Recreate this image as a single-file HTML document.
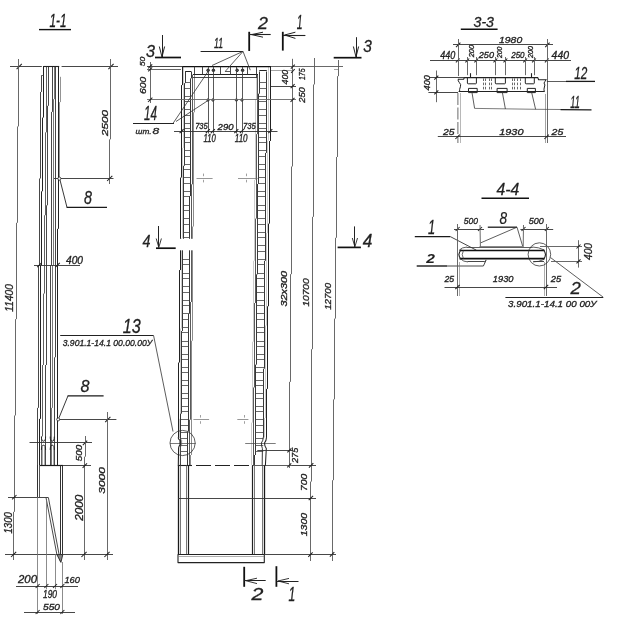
<!DOCTYPE html>
<html><head><meta charset="utf-8"><title>drawing</title>
<style>
html,body{margin:0;padding:0;background:#fff;}
body{width:626px;height:625px;overflow:hidden;}
svg{display:block;font-family:"Liberation Sans",sans-serif;will-change:transform;}
</style></head><body>
<svg width="626" height="625" viewBox="0 0 626 625">
<rect width="626" height="625" fill="#fff"/>
<text x="49.5" y="27" font-size="18.16" textLength="17" lengthAdjust="spacingAndGlyphs" fill="#1a1a1a" style="font-style:italic;font-weight:normal" stroke="#1a1a1a" stroke-width="0.3">1-1</text>
<line x1="39" y1="29.6" x2="71" y2="29.6" stroke="#111" stroke-width="1.4"/>
<line x1="10" y1="66.5" x2="41.8" y2="66.5" stroke="#333" stroke-width="0.9"/>
<line x1="61.6" y1="66.5" x2="118" y2="66.5" stroke="#333" stroke-width="0.9"/>
<line x1="16.6" y1="69.1" x2="21.8" y2="63.9" stroke="#222" stroke-width="1.05"/>
<line x1="108.4" y1="69.1" x2="113.6" y2="63.9" stroke="#222" stroke-width="1.05"/>
<line x1="13.5" y1="511.83" x2="13.5" y2="560" stroke="#585858" stroke-width="0.9"/>
<line x1="14.5" y1="415.48" x2="14.5" y2="511.83" stroke="#585858" stroke-width="0.9"/>
<line x1="15.5" y1="319.13" x2="15.5" y2="415.48" stroke="#585858" stroke-width="0.9"/>
<line x1="16.5" y1="222.79" x2="16.5" y2="319.13" stroke="#585858" stroke-width="0.9"/>
<line x1="17.5" y1="126.44" x2="17.5" y2="222.79" stroke="#585858" stroke-width="0.9"/>
<line x1="18.5" y1="59" x2="18.5" y2="126.44" stroke="#585858" stroke-width="0.9"/>
<line x1="109.5" y1="139.36" x2="109.5" y2="184" stroke="#585858" stroke-width="0.9"/>
<line x1="110.5" y1="59" x2="110.5" y2="139.36" stroke="#585858" stroke-width="0.9"/>
<line x1="107.1" y1="181" x2="112.3" y2="175.8" stroke="#222" stroke-width="1.05"/>
<line x1="54" y1="178.5" x2="113.5" y2="178.5" stroke="#333" stroke-width="0.9"/>
<text transform="translate(108.1 136) rotate(-90)" x="0" y="0" font-size="9.22" textLength="26" lengthAdjust="spacingAndGlyphs" fill="#222" style="font-style:italic;font-weight:normal" stroke="#222" stroke-width="0.32">2500</text>
<line x1="39.5" y1="178.48" x2="39.5" y2="265" stroke="#333" stroke-width="0.9"/>
<line x1="40.5" y1="91.96" x2="40.5" y2="178.48" stroke="#333" stroke-width="0.9"/>
<line x1="41.5" y1="75.5" x2="41.5" y2="91.96" stroke="#333" stroke-width="0.9"/>
<line x1="37.5" y1="407.86" x2="37.5" y2="465" stroke="#333" stroke-width="0.9"/>
<line x1="38.5" y1="265" x2="38.5" y2="407.86" stroke="#333" stroke-width="0.9"/>
<line x1="41.5" y1="191.3" x2="41.5" y2="265" stroke="#222" stroke-width="1"/>
<line x1="42.5" y1="117.59" x2="42.5" y2="191.3" stroke="#222" stroke-width="1"/>
<line x1="43.5" y1="66" x2="43.5" y2="117.59" stroke="#222" stroke-width="1"/>
<line x1="39.5" y1="418.85" x2="39.5" y2="465" stroke="#222" stroke-width="1"/>
<line x1="40.5" y1="265" x2="40.5" y2="418.85" stroke="#222" stroke-width="1"/>
<line x1="44.5" y1="215.25" x2="44.5" y2="265" stroke="#444" stroke-width="0.85"/>
<line x1="45.5" y1="132.33" x2="45.5" y2="215.25" stroke="#444" stroke-width="0.85"/>
<line x1="46.5" y1="66" x2="46.5" y2="132.33" stroke="#444" stroke-width="0.85"/>
<line x1="41.5" y1="436.43" x2="41.5" y2="465" stroke="#444" stroke-width="0.85"/>
<line x1="42.5" y1="365" x2="42.5" y2="436.43" stroke="#444" stroke-width="0.85"/>
<line x1="43.5" y1="293.57" x2="43.5" y2="365" stroke="#444" stroke-width="0.85"/>
<line x1="44.5" y1="265" x2="44.5" y2="293.57" stroke="#444" stroke-width="0.85"/>
<line x1="46.5" y1="205.3" x2="46.5" y2="265" stroke="#333" stroke-width="0.9"/>
<line x1="47.5" y1="105.8" x2="47.5" y2="205.3" stroke="#333" stroke-width="0.9"/>
<line x1="48.5" y1="66" x2="48.5" y2="105.8" stroke="#333" stroke-width="0.9"/>
<line x1="45.5" y1="365" x2="45.5" y2="465" stroke="#333" stroke-width="0.9"/>
<line x1="46.5" y1="265" x2="46.5" y2="365" stroke="#333" stroke-width="0.9"/>
<line x1="51.5" y1="111.92" x2="51.5" y2="265" stroke="#333" stroke-width="0.9"/>
<line x1="52.5" y1="66" x2="52.5" y2="111.92" stroke="#333" stroke-width="0.9"/>
<line x1="50.5" y1="265" x2="50.5" y2="465" stroke="#333" stroke-width="0.9"/>
<line x1="53.5" y1="99.17" x2="53.5" y2="265" stroke="#555" stroke-width="0.8"/>
<line x1="54.5" y1="66" x2="54.5" y2="99.17" stroke="#555" stroke-width="0.8"/>
<line x1="51.5" y1="407.86" x2="51.5" y2="465" stroke="#555" stroke-width="0.8"/>
<line x1="52.5" y1="265" x2="52.5" y2="407.86" stroke="#555" stroke-width="0.8"/>
<line x1="55.5" y1="66" x2="55.5" y2="265" stroke="#333" stroke-width="0.9"/>
<line x1="54.5" y1="357.31" x2="54.5" y2="465" stroke="#333" stroke-width="0.9"/>
<line x1="55.5" y1="265" x2="55.5" y2="357.31" stroke="#333" stroke-width="0.9"/>
<line x1="57.5" y1="228.82" x2="57.5" y2="265" stroke="#222" stroke-width="1"/>
<line x1="58.5" y1="66" x2="58.5" y2="228.82" stroke="#222" stroke-width="1"/>
<line x1="57.5" y1="265" x2="57.5" y2="465" stroke="#222" stroke-width="1"/>
<line x1="43.4" y1="66.5" x2="59.2" y2="66.5" stroke="#222" stroke-width="1.1"/>
<line x1="41.2" y1="75.5" x2="43.4" y2="75.5" stroke="#444" stroke-width="0.8"/>
<line x1="59.5" y1="102.1" x2="59.5" y2="178" stroke="#666" stroke-width="0.7"/>
<line x1="60.5" y1="76.8" x2="60.5" y2="102.1" stroke="#666" stroke-width="0.7"/>
<circle cx="59.4" cy="178.6" r="1.5" fill="#fff" stroke="#222" stroke-width="0.8"/>
<line x1="60" y1="180" x2="67" y2="207.4" stroke="#222" stroke-width="0.9"/>
<line x1="66.6" y1="207.4" x2="107" y2="207.4" stroke="#1a1a1a" stroke-width="1.3"/>
<text x="84" y="204" font-size="18.16" textLength="8" lengthAdjust="spacingAndGlyphs" fill="#222" style="font-style:italic;font-weight:normal" stroke="#222" stroke-width="0.28">8</text>
<line x1="34" y1="265.5" x2="80" y2="265.5" stroke="#333" stroke-width="0.9"/>
<line x1="37.2" y1="267.2" x2="41.6" y2="262.8" stroke="#222" stroke-width="1.05"/>
<line x1="55.4" y1="267.2" x2="59.8" y2="262.8" stroke="#222" stroke-width="1.05"/>
<text x="66" y="263.5" font-size="11.17" textLength="17" lengthAdjust="spacingAndGlyphs" fill="#222" style="font-style:italic;font-weight:normal" stroke="#222" stroke-width="0.32">400</text>
<text transform="translate(12.6 311.7) rotate(-90)" x="0" y="0" font-size="10.61" textLength="27.7" lengthAdjust="spacingAndGlyphs" fill="#222" style="font-style:italic;font-weight:normal" stroke="#222" stroke-width="0.32">11400</text>
<text x="80.6" y="392.4" font-size="16.76" textLength="9" lengthAdjust="spacingAndGlyphs" fill="#222" style="font-style:italic;font-weight:normal" stroke="#222" stroke-width="0.28">8</text>
<line x1="68" y1="395.8" x2="59" y2="417.8" stroke="#222" stroke-width="0.9"/>
<line x1="67.6" y1="395.8" x2="103.6" y2="395.8" stroke="#1a1a1a" stroke-width="1.3"/>
<circle cx="58.2" cy="419.4" r="1.5" fill="#fff" stroke="#222" stroke-width="0.8"/>
<line x1="59.5" y1="419.5" x2="116.4" y2="419.5" stroke="#333" stroke-width="0.9"/>
<line x1="105.2" y1="422.1" x2="110.4" y2="416.9" stroke="#222" stroke-width="1.05"/>
<line x1="107.5" y1="412" x2="107.5" y2="560" stroke="#585858" stroke-width="0.9"/>
<text transform="translate(105.2 493.8) rotate(-90)" x="0" y="0" font-size="9.78" textLength="26.8" lengthAdjust="spacingAndGlyphs" fill="#222" style="font-style:italic;font-weight:normal" stroke="#222" stroke-width="0.32">3000</text>
<line x1="29.5" y1="442.5" x2="92" y2="442.5" stroke="#333" stroke-width="0.9"/>
<line x1="82.8" y1="445.1" x2="87.2" y2="440.7" stroke="#222" stroke-width="1.05"/>
<line x1="84.5" y1="456.67" x2="84.5" y2="560" stroke="#585858" stroke-width="0.9"/>
<line x1="85.5" y1="436" x2="85.5" y2="456.67" stroke="#585858" stroke-width="0.9"/>
<text transform="translate(82.2 461.2) rotate(-90)" x="0" y="0" font-size="8.94" textLength="16.4" lengthAdjust="spacingAndGlyphs" fill="#222" style="font-style:italic;font-weight:normal" stroke="#222" stroke-width="0.32">500</text>
<line x1="40" y1="465.5" x2="63" y2="465.5" stroke="#1a1a1a" stroke-width="1.2"/>
<line x1="63" y1="465.5" x2="91" y2="465.5" stroke="#333" stroke-width="0.9"/>
<line x1="82.6" y1="467.8" x2="87" y2="463.4" stroke="#222" stroke-width="1.05"/>
<text transform="translate(82.5 520.8) rotate(-90)" x="0" y="0" font-size="10.34" textLength="26" lengthAdjust="spacingAndGlyphs" fill="#222" style="font-style:italic;font-weight:normal" stroke="#222" stroke-width="0.32">2000</text>
<path d="M41.4 437 Q41.4 441.2 43.5 441.2 Q45.6 441.2 45.6 437" fill="none" stroke="#222" stroke-width="1" stroke-linejoin="round" stroke-linecap="round"/>
<path d="M41.4 449.5 Q41.4 445.2 43.5 445.2 Q45.6 445.2 45.6 449.5" fill="none" stroke="#222" stroke-width="1" stroke-linejoin="round" stroke-linecap="round"/>
<line x1="42.5" y1="446.5" x2="42.5" y2="465" stroke="#777" stroke-width="0.6"/>
<line x1="44.5" y1="446.5" x2="44.5" y2="465" stroke="#777" stroke-width="0.6"/>
<path d="M50.2 437 Q50.2 441.2 52.25 441.2 Q54.3 441.2 54.3 437" fill="none" stroke="#222" stroke-width="1" stroke-linejoin="round" stroke-linecap="round"/>
<path d="M50.2 449.5 Q50.2 445.2 52.25 445.2 Q54.3 445.2 54.3 449.5" fill="none" stroke="#222" stroke-width="1" stroke-linejoin="round" stroke-linecap="round"/>
<line x1="51.5" y1="446.5" x2="51.5" y2="465" stroke="#777" stroke-width="0.6"/>
<line x1="53.5" y1="446.5" x2="53.5" y2="465" stroke="#777" stroke-width="0.6"/>
<line x1="37.5" y1="465" x2="37.5" y2="497.4" stroke="#333" stroke-width="1"/>
<line x1="39.5" y1="465" x2="39.5" y2="497.4" stroke="#444" stroke-width="0.9"/>
<line x1="8" y1="497.5" x2="48.4" y2="497.5" stroke="#333" stroke-width="0.9"/>
<line x1="60.5" y1="465.6" x2="60.5" y2="561" stroke="#333" stroke-width="1"/>
<line x1="62.5" y1="465.6" x2="62.5" y2="555" stroke="#333" stroke-width="1"/>
<path d="M46 497.6 L56.9 554.6" fill="none" stroke="#333" stroke-width="0.9" stroke-linejoin="round"/>
<path d="M48.4 497.6 L60.4 561.5" fill="none" stroke="#333" stroke-width="0.9" stroke-linejoin="round"/>
<path d="M56.9 554.6 L60.9 562.4 L62.8 554.6 Z" fill="#888" stroke="#222" stroke-width="0.9" stroke-linejoin="round"/>
<line x1="5" y1="554.5" x2="113" y2="554.5" stroke="#333" stroke-width="0.9"/>
<line x1="11" y1="557" x2="16.2" y2="551.8" stroke="#222" stroke-width="1.05"/>
<line x1="81.4" y1="557" x2="86.6" y2="551.8" stroke="#222" stroke-width="1.05"/>
<line x1="104.4" y1="557" x2="109.6" y2="551.8" stroke="#222" stroke-width="1.05"/>
<line x1="12.1" y1="499.4" x2="16.5" y2="495" stroke="#222" stroke-width="1.05"/>
<text transform="translate(12.4 533.5) rotate(-90)" x="0" y="0" font-size="10.06" textLength="21.5" lengthAdjust="spacingAndGlyphs" fill="#222" style="font-style:italic;font-weight:normal" stroke="#222" stroke-width="0.32">1300</text>
<line x1="37.5" y1="497" x2="37.5" y2="614" stroke="#6e6e6e" stroke-width="0.8"/>
<line x1="46.5" y1="500" x2="46.5" y2="589" stroke="#6e6e6e" stroke-width="0.8"/>
<line x1="55.5" y1="554" x2="55.5" y2="589" stroke="#6e6e6e" stroke-width="0.8"/>
<line x1="62.5" y1="562" x2="62.5" y2="614" stroke="#6e6e6e" stroke-width="0.8"/>
<line x1="16" y1="586.5" x2="78" y2="586.5" stroke="#333" stroke-width="0.9"/>
<line x1="35.6" y1="588" x2="39.6" y2="584" stroke="#222" stroke-width="1.05"/>
<line x1="44.4" y1="588" x2="48.4" y2="584" stroke="#222" stroke-width="1.05"/>
<line x1="53" y1="588" x2="57" y2="584" stroke="#222" stroke-width="1.05"/>
<line x1="60.4" y1="588" x2="64.4" y2="584" stroke="#222" stroke-width="1.05"/>
<line x1="24" y1="612.5" x2="75" y2="612.5" stroke="#333" stroke-width="0.9"/>
<line x1="35.6" y1="614" x2="39.6" y2="610" stroke="#222" stroke-width="1.05"/>
<line x1="60.4" y1="614" x2="64.4" y2="610" stroke="#222" stroke-width="1.05"/>
<text x="18" y="583" font-size="10.47" textLength="19" lengthAdjust="spacingAndGlyphs" fill="#222" style="font-style:italic;font-weight:normal" stroke="#222" stroke-width="0.32">200</text>
<text x="64.4" y="583" font-size="9.78" textLength="15.6" lengthAdjust="spacingAndGlyphs" fill="#222" style="font-style:italic;font-weight:normal" stroke="#222" stroke-width="0.32">160</text>
<text x="43" y="598" font-size="10.47" textLength="14" lengthAdjust="spacingAndGlyphs" fill="#222" style="font-style:italic;font-weight:normal" stroke="#222" stroke-width="0.32">190</text>
<text x="43" y="609.6" font-size="9.22" textLength="17" lengthAdjust="spacingAndGlyphs" fill="#222" style="font-style:italic;font-weight:normal" stroke="#222" stroke-width="0.32">550</text>
<text x="122.8" y="333" font-size="19.55" textLength="18" lengthAdjust="spacingAndGlyphs" fill="#222" style="font-style:italic;font-weight:normal" stroke="#222" stroke-width="0.28">13</text>
<line x1="60.2" y1="335.5" x2="153.6" y2="335.5" stroke="#222" stroke-width="1.2"/>
<line x1="153.6" y1="335.6" x2="173" y2="431.5" stroke="#333" stroke-width="0.8"/>
<text x="62.7" y="345.8" font-size="9.08" textLength="89.6" lengthAdjust="spacingAndGlyphs" fill="#222" style="font-style:italic;font-weight:normal" stroke="#222" stroke-width="0.32">3.901.1-14.1 00.00.00У</text>
<line x1="180.5" y1="177.57" x2="180.5" y2="238.8" stroke="#222" stroke-width="1.05"/>
<line x1="181.5" y1="85.1" x2="181.5" y2="177.57" stroke="#222" stroke-width="1.05"/>
<line x1="182.5" y1="66.6" x2="182.5" y2="85.1" stroke="#222" stroke-width="1.05"/>
<line x1="178.5" y1="362.52" x2="178.5" y2="437.8" stroke="#222" stroke-width="1.05"/>
<line x1="179.5" y1="270.05" x2="179.5" y2="362.52" stroke="#222" stroke-width="1.05"/>
<line x1="180.5" y1="250.3" x2="180.5" y2="270.05" stroke="#222" stroke-width="1.05"/>
<line x1="181.5" y1="238.22" x2="181.5" y2="238.8" stroke="#999" stroke-width="0.5"/>
<line x1="182.5" y1="147.89" x2="182.5" y2="238.22" stroke="#999" stroke-width="0.5"/>
<line x1="183.5" y1="66.6" x2="183.5" y2="147.89" stroke="#999" stroke-width="0.5"/>
<line x1="179.5" y1="418.87" x2="179.5" y2="437.8" stroke="#999" stroke-width="0.5"/>
<line x1="180.5" y1="328.54" x2="180.5" y2="418.87" stroke="#999" stroke-width="0.5"/>
<line x1="181.5" y1="250.3" x2="181.5" y2="328.54" stroke="#999" stroke-width="0.5"/>
<line x1="183.5" y1="165.77" x2="183.5" y2="238.8" stroke="#2c2c2c" stroke-width="0.95"/>
<line x1="184.5" y1="83.13" x2="184.5" y2="165.77" stroke="#2c2c2c" stroke-width="0.95"/>
<line x1="185.5" y1="71.5" x2="185.5" y2="83.13" stroke="#2c2c2c" stroke-width="0.95"/>
<line x1="180.5" y1="413.68" x2="180.5" y2="465" stroke="#2c2c2c" stroke-width="0.95"/>
<line x1="181.5" y1="331.04" x2="181.5" y2="413.68" stroke="#2c2c2c" stroke-width="0.95"/>
<line x1="182.5" y1="250.3" x2="182.5" y2="331.04" stroke="#2c2c2c" stroke-width="0.95"/>
<line x1="189.5" y1="196.07" x2="189.5" y2="238.8" stroke="#2c2c2c" stroke-width="0.95"/>
<line x1="190.5" y1="78.37" x2="190.5" y2="196.07" stroke="#2c2c2c" stroke-width="0.95"/>
<line x1="191.5" y1="71.5" x2="191.5" y2="78.37" stroke="#2c2c2c" stroke-width="0.95"/>
<line x1="187.5" y1="431.46" x2="187.5" y2="465" stroke="#2c2c2c" stroke-width="0.95"/>
<line x1="188.5" y1="313.76" x2="188.5" y2="431.46" stroke="#2c2c2c" stroke-width="0.95"/>
<line x1="189.5" y1="250.3" x2="189.5" y2="313.76" stroke="#2c2c2c" stroke-width="0.95"/>
<line x1="191.5" y1="184.3" x2="191.5" y2="238.8" stroke="#3c3c3c" stroke-width="0.85"/>
<line x1="192.5" y1="74.7" x2="192.5" y2="184.3" stroke="#3c3c3c" stroke-width="0.85"/>
<line x1="189.5" y1="419.69" x2="189.5" y2="465" stroke="#3c3c3c" stroke-width="0.85"/>
<line x1="190.5" y1="301.99" x2="190.5" y2="419.69" stroke="#3c3c3c" stroke-width="0.85"/>
<line x1="191.5" y1="250.3" x2="191.5" y2="301.99" stroke="#3c3c3c" stroke-width="0.85"/>
<line x1="192.5" y1="226.53" x2="192.5" y2="238.8" stroke="#5a5a5a" stroke-width="0.7"/>
<line x1="193.5" y1="112.29" x2="193.5" y2="226.53" stroke="#5a5a5a" stroke-width="0.7"/>
<line x1="194.5" y1="74.7" x2="194.5" y2="112.29" stroke="#5a5a5a" stroke-width="0.7"/>
<line x1="190.5" y1="455" x2="190.5" y2="465" stroke="#5a5a5a" stroke-width="0.7"/>
<line x1="191.5" y1="340.76" x2="191.5" y2="455" stroke="#5a5a5a" stroke-width="0.7"/>
<line x1="192.5" y1="250.3" x2="192.5" y2="340.76" stroke="#5a5a5a" stroke-width="0.7"/>
<line x1="251.5" y1="422.63" x2="251.5" y2="465" stroke="#999" stroke-width="0.5"/>
<line x1="252.5" y1="341.72" x2="252.5" y2="422.63" stroke="#999" stroke-width="0.5"/>
<line x1="253.5" y1="260.8" x2="253.5" y2="341.72" stroke="#999" stroke-width="0.5"/>
<line x1="254.5" y1="179.88" x2="254.5" y2="260.8" stroke="#999" stroke-width="0.5"/>
<line x1="255.5" y1="98.97" x2="255.5" y2="179.88" stroke="#999" stroke-width="0.5"/>
<line x1="256.5" y1="74.7" x2="256.5" y2="98.97" stroke="#999" stroke-width="0.5"/>
<line x1="253.5" y1="387.45" x2="253.5" y2="465" stroke="#3c3c3c" stroke-width="0.85"/>
<line x1="254.5" y1="303.02" x2="254.5" y2="387.45" stroke="#3c3c3c" stroke-width="0.85"/>
<line x1="255.5" y1="218.58" x2="255.5" y2="303.02" stroke="#3c3c3c" stroke-width="0.85"/>
<line x1="256.5" y1="134.15" x2="256.5" y2="218.58" stroke="#3c3c3c" stroke-width="0.85"/>
<line x1="257.5" y1="74.7" x2="257.5" y2="134.15" stroke="#3c3c3c" stroke-width="0.85"/>
<line x1="254.5" y1="455" x2="254.5" y2="465" stroke="#2c2c2c" stroke-width="0.95"/>
<line x1="255.5" y1="364.67" x2="255.5" y2="455" stroke="#2c2c2c" stroke-width="0.95"/>
<line x1="256.5" y1="274.35" x2="256.5" y2="364.67" stroke="#2c2c2c" stroke-width="0.95"/>
<line x1="257.5" y1="184.02" x2="257.5" y2="274.35" stroke="#2c2c2c" stroke-width="0.95"/>
<line x1="258.5" y1="93.7" x2="258.5" y2="184.02" stroke="#2c2c2c" stroke-width="0.95"/>
<line x1="259.5" y1="71.5" x2="259.5" y2="93.7" stroke="#2c2c2c" stroke-width="0.95"/>
<line x1="263.5" y1="368.69" x2="263.5" y2="437.5" stroke="#2c2c2c" stroke-width="0.95"/>
<line x1="264.5" y1="260.8" x2="264.5" y2="368.69" stroke="#2c2c2c" stroke-width="0.95"/>
<line x1="265.5" y1="152.91" x2="265.5" y2="260.8" stroke="#2c2c2c" stroke-width="0.95"/>
<line x1="266.5" y1="71.5" x2="266.5" y2="152.91" stroke="#2c2c2c" stroke-width="0.95"/>
<line x1="264.5" y1="418.01" x2="264.5" y2="437.5" stroke="#999" stroke-width="0.5"/>
<line x1="265.5" y1="325.53" x2="265.5" y2="418.01" stroke="#999" stroke-width="0.5"/>
<line x1="266.5" y1="233.06" x2="266.5" y2="325.53" stroke="#999" stroke-width="0.5"/>
<line x1="267.5" y1="140.58" x2="267.5" y2="233.06" stroke="#999" stroke-width="0.5"/>
<line x1="268.5" y1="66.6" x2="268.5" y2="140.58" stroke="#999" stroke-width="0.5"/>
<line x1="266.5" y1="388.89" x2="266.5" y2="437.5" stroke="#222" stroke-width="1.05"/>
<line x1="267.5" y1="306.25" x2="267.5" y2="388.89" stroke="#222" stroke-width="1.05"/>
<line x1="268.5" y1="223.61" x2="268.5" y2="306.25" stroke="#222" stroke-width="1.05"/>
<line x1="269.5" y1="140.97" x2="269.5" y2="223.61" stroke="#222" stroke-width="1.05"/>
<line x1="270.5" y1="66.6" x2="270.5" y2="140.97" stroke="#222" stroke-width="1.05"/>
<line x1="185.01" y1="82.5" x2="190.96" y2="82.5" stroke="#444" stroke-width="0.8"/>
<line x1="259.12" y1="82.5" x2="266.65" y2="82.5" stroke="#444" stroke-width="0.8"/>
<line x1="184.94" y1="88.5" x2="190.92" y2="88.5" stroke="#444" stroke-width="0.8"/>
<line x1="259.06" y1="88.5" x2="266.6" y2="88.5" stroke="#444" stroke-width="0.8"/>
<line x1="184.84" y1="96.5" x2="190.85" y2="96.5" stroke="#444" stroke-width="0.8"/>
<line x1="258.97" y1="96.5" x2="266.53" y2="96.5" stroke="#444" stroke-width="0.8"/>
<line x1="184.78" y1="101.5" x2="190.8" y2="101.5" stroke="#444" stroke-width="0.8"/>
<line x1="258.91" y1="101.5" x2="266.48" y2="101.5" stroke="#444" stroke-width="0.8"/>
<line x1="184.68" y1="109.5" x2="190.73" y2="109.5" stroke="#444" stroke-width="0.8"/>
<line x1="258.82" y1="109.5" x2="266.4" y2="109.5" stroke="#444" stroke-width="0.8"/>
<line x1="184.61" y1="115.5" x2="190.69" y2="115.5" stroke="#444" stroke-width="0.8"/>
<line x1="258.76" y1="115.5" x2="266.35" y2="115.5" stroke="#444" stroke-width="0.8"/>
<line x1="184.51" y1="123.5" x2="190.62" y2="123.5" stroke="#444" stroke-width="0.8"/>
<line x1="258.67" y1="123.5" x2="266.27" y2="123.5" stroke="#444" stroke-width="0.8"/>
<line x1="184.45" y1="128.5" x2="190.57" y2="128.5" stroke="#444" stroke-width="0.8"/>
<line x1="258.61" y1="128.5" x2="266.22" y2="128.5" stroke="#444" stroke-width="0.8"/>
<line x1="184.35" y1="137.5" x2="190.5" y2="137.5" stroke="#444" stroke-width="0.8"/>
<line x1="258.52" y1="137.5" x2="266.15" y2="137.5" stroke="#444" stroke-width="0.8"/>
<line x1="184.28" y1="142.5" x2="190.46" y2="142.5" stroke="#444" stroke-width="0.8"/>
<line x1="258.46" y1="142.5" x2="266.1" y2="142.5" stroke="#444" stroke-width="0.8"/>
<line x1="184.18" y1="150.5" x2="190.39" y2="150.5" stroke="#444" stroke-width="0.8"/>
<line x1="258.37" y1="150.5" x2="266.02" y2="150.5" stroke="#444" stroke-width="0.8"/>
<line x1="184.12" y1="156.5" x2="190.34" y2="156.5" stroke="#444" stroke-width="0.8"/>
<line x1="258.31" y1="156.5" x2="265.97" y2="156.5" stroke="#444" stroke-width="0.8"/>
<line x1="184.02" y1="164.5" x2="190.27" y2="164.5" stroke="#444" stroke-width="0.8"/>
<line x1="258.22" y1="164.5" x2="265.9" y2="164.5" stroke="#444" stroke-width="0.8"/>
<line x1="183.95" y1="169.5" x2="190.22" y2="169.5" stroke="#444" stroke-width="0.8"/>
<line x1="258.16" y1="169.5" x2="265.85" y2="169.5" stroke="#444" stroke-width="0.8"/>
<line x1="183.85" y1="177.5" x2="190.16" y2="177.5" stroke="#444" stroke-width="0.8"/>
<line x1="258.07" y1="177.5" x2="265.77" y2="177.5" stroke="#444" stroke-width="0.8"/>
<line x1="183.79" y1="183.5" x2="190.11" y2="183.5" stroke="#444" stroke-width="0.8"/>
<line x1="258.01" y1="183.5" x2="265.72" y2="183.5" stroke="#444" stroke-width="0.8"/>
<line x1="183.69" y1="191.5" x2="190.04" y2="191.5" stroke="#444" stroke-width="0.8"/>
<line x1="257.92" y1="191.5" x2="265.64" y2="191.5" stroke="#444" stroke-width="0.8"/>
<line x1="183.62" y1="196.5" x2="189.99" y2="196.5" stroke="#444" stroke-width="0.8"/>
<line x1="257.86" y1="196.5" x2="265.59" y2="196.5" stroke="#444" stroke-width="0.8"/>
<line x1="183.53" y1="205.5" x2="189.92" y2="205.5" stroke="#444" stroke-width="0.8"/>
<line x1="257.77" y1="205.5" x2="265.52" y2="205.5" stroke="#444" stroke-width="0.8"/>
<line x1="183.46" y1="210.5" x2="189.88" y2="210.5" stroke="#444" stroke-width="0.8"/>
<line x1="257.71" y1="210.5" x2="265.47" y2="210.5" stroke="#444" stroke-width="0.8"/>
<line x1="183.36" y1="218.5" x2="189.81" y2="218.5" stroke="#444" stroke-width="0.8"/>
<line x1="257.62" y1="218.5" x2="265.39" y2="218.5" stroke="#444" stroke-width="0.8"/>
<line x1="183.3" y1="224.5" x2="189.76" y2="224.5" stroke="#444" stroke-width="0.8"/>
<line x1="257.56" y1="224.5" x2="265.34" y2="224.5" stroke="#444" stroke-width="0.8"/>
<line x1="183.2" y1="232.5" x2="189.69" y2="232.5" stroke="#444" stroke-width="0.8"/>
<line x1="257.47" y1="232.5" x2="265.27" y2="232.5" stroke="#444" stroke-width="0.8"/>
<line x1="183.13" y1="237.5" x2="189.65" y2="237.5" stroke="#444" stroke-width="0.8"/>
<line x1="257.41" y1="237.5" x2="265.22" y2="237.5" stroke="#444" stroke-width="0.8"/>
<line x1="257.32" y1="245.5" x2="265.14" y2="245.5" stroke="#444" stroke-width="0.8"/>
<line x1="257.26" y1="251.5" x2="265.09" y2="251.5" stroke="#444" stroke-width="0.8"/>
<line x1="182.87" y1="259.5" x2="189.46" y2="259.5" stroke="#444" stroke-width="0.8"/>
<line x1="257.17" y1="259.5" x2="265.01" y2="259.5" stroke="#444" stroke-width="0.8"/>
<line x1="182.8" y1="264.5" x2="189.42" y2="264.5" stroke="#444" stroke-width="0.8"/>
<line x1="257.11" y1="264.5" x2="264.96" y2="264.5" stroke="#444" stroke-width="0.8"/>
<line x1="182.7" y1="273.5" x2="189.35" y2="273.5" stroke="#444" stroke-width="0.8"/>
<line x1="257.01" y1="273.5" x2="264.89" y2="273.5" stroke="#444" stroke-width="0.8"/>
<line x1="182.64" y1="278.5" x2="189.3" y2="278.5" stroke="#444" stroke-width="0.8"/>
<line x1="256.96" y1="278.5" x2="264.84" y2="278.5" stroke="#444" stroke-width="0.8"/>
<line x1="182.54" y1="286.5" x2="189.23" y2="286.5" stroke="#444" stroke-width="0.8"/>
<line x1="256.86" y1="286.5" x2="264.76" y2="286.5" stroke="#444" stroke-width="0.8"/>
<line x1="182.47" y1="292.5" x2="189.18" y2="292.5" stroke="#444" stroke-width="0.8"/>
<line x1="256.8" y1="292.5" x2="264.71" y2="292.5" stroke="#444" stroke-width="0.8"/>
<line x1="182.37" y1="300.5" x2="189.12" y2="300.5" stroke="#444" stroke-width="0.8"/>
<line x1="256.71" y1="300.5" x2="264.63" y2="300.5" stroke="#444" stroke-width="0.8"/>
<line x1="182.31" y1="305.5" x2="189.07" y2="305.5" stroke="#444" stroke-width="0.8"/>
<line x1="256.65" y1="305.5" x2="264.58" y2="305.5" stroke="#444" stroke-width="0.8"/>
<line x1="182.21" y1="313.5" x2="189" y2="313.5" stroke="#444" stroke-width="0.8"/>
<line x1="256.56" y1="313.5" x2="264.51" y2="313.5" stroke="#444" stroke-width="0.8"/>
<line x1="182.14" y1="319.5" x2="188.95" y2="319.5" stroke="#444" stroke-width="0.8"/>
<line x1="256.5" y1="319.5" x2="264.46" y2="319.5" stroke="#444" stroke-width="0.8"/>
<line x1="182.04" y1="327.5" x2="188.88" y2="327.5" stroke="#444" stroke-width="0.8"/>
<line x1="256.41" y1="327.5" x2="264.38" y2="327.5" stroke="#444" stroke-width="0.8"/>
<line x1="181.98" y1="332.5" x2="188.84" y2="332.5" stroke="#444" stroke-width="0.8"/>
<line x1="256.35" y1="332.5" x2="264.33" y2="332.5" stroke="#444" stroke-width="0.8"/>
<line x1="181.88" y1="341.5" x2="188.77" y2="341.5" stroke="#444" stroke-width="0.8"/>
<line x1="256.26" y1="341.5" x2="264.26" y2="341.5" stroke="#444" stroke-width="0.8"/>
<line x1="181.81" y1="346.5" x2="188.72" y2="346.5" stroke="#444" stroke-width="0.8"/>
<line x1="256.2" y1="346.5" x2="264.21" y2="346.5" stroke="#444" stroke-width="0.8"/>
<line x1="181.72" y1="354.5" x2="188.66" y2="354.5" stroke="#444" stroke-width="0.8"/>
<line x1="256.12" y1="354.5" x2="264.14" y2="354.5" stroke="#444" stroke-width="0.8"/>
<line x1="181.66" y1="359.5" x2="188.61" y2="359.5" stroke="#444" stroke-width="0.8"/>
<line x1="256.06" y1="359.5" x2="264.09" y2="359.5" stroke="#444" stroke-width="0.8"/>
<line x1="181.56" y1="367.5" x2="188.55" y2="367.5" stroke="#444" stroke-width="0.8"/>
<line x1="255.97" y1="367.5" x2="264.01" y2="367.5" stroke="#444" stroke-width="0.8"/>
<line x1="181.5" y1="372.5" x2="188.5" y2="372.5" stroke="#444" stroke-width="0.8"/>
<line x1="255.91" y1="372.5" x2="263.96" y2="372.5" stroke="#444" stroke-width="0.8"/>
<line x1="181.4" y1="380.5" x2="188.43" y2="380.5" stroke="#444" stroke-width="0.8"/>
<line x1="255.83" y1="380.5" x2="263.89" y2="380.5" stroke="#444" stroke-width="0.8"/>
<line x1="181.34" y1="385.5" x2="188.39" y2="385.5" stroke="#444" stroke-width="0.8"/>
<line x1="255.77" y1="385.5" x2="263.84" y2="385.5" stroke="#444" stroke-width="0.8"/>
<line x1="181.25" y1="393.5" x2="188.32" y2="393.5" stroke="#444" stroke-width="0.8"/>
<line x1="255.68" y1="393.5" x2="263.77" y2="393.5" stroke="#444" stroke-width="0.8"/>
<line x1="181.18" y1="398.5" x2="188.28" y2="398.5" stroke="#444" stroke-width="0.8"/>
<line x1="255.62" y1="398.5" x2="263.72" y2="398.5" stroke="#444" stroke-width="0.8"/>
<line x1="181.09" y1="406.5" x2="188.21" y2="406.5" stroke="#444" stroke-width="0.8"/>
<line x1="255.54" y1="406.5" x2="263.65" y2="406.5" stroke="#444" stroke-width="0.8"/>
<line x1="181.02" y1="411.5" x2="188.17" y2="411.5" stroke="#444" stroke-width="0.8"/>
<line x1="255.48" y1="411.5" x2="263.6" y2="411.5" stroke="#444" stroke-width="0.8"/>
<line x1="180.93" y1="419.5" x2="188.1" y2="419.5" stroke="#444" stroke-width="0.8"/>
<line x1="255.39" y1="419.5" x2="263.53" y2="419.5" stroke="#444" stroke-width="0.8"/>
<line x1="180.86" y1="425.5" x2="188.05" y2="425.5" stroke="#444" stroke-width="0.8"/>
<line x1="255.33" y1="425.5" x2="263.48" y2="425.5" stroke="#444" stroke-width="0.8"/>
<line x1="180.77" y1="432.5" x2="187.99" y2="432.5" stroke="#444" stroke-width="0.8"/>
<line x1="255.25" y1="432.5" x2="263.41" y2="432.5" stroke="#444" stroke-width="0.8"/>
<line x1="180.7" y1="438.5" x2="187.94" y2="438.5" stroke="#444" stroke-width="0.8"/>
<line x1="255.19" y1="438.5" x2="263.36" y2="438.5" stroke="#444" stroke-width="0.8"/>
<line x1="180.61" y1="445.5" x2="187.88" y2="445.5" stroke="#444" stroke-width="0.8"/>
<line x1="255.1" y1="445.5" x2="263.29" y2="445.5" stroke="#444" stroke-width="0.8"/>
<line x1="180.55" y1="451.5" x2="187.83" y2="451.5" stroke="#444" stroke-width="0.8"/>
<line x1="255.04" y1="451.5" x2="263.24" y2="451.5" stroke="#444" stroke-width="0.8"/>
<line x1="185.2" y1="71.5" x2="191.1" y2="71.5" stroke="#222" stroke-width="1"/>
<line x1="259.3" y1="70.5" x2="266.8" y2="70.5" stroke="#222" stroke-width="1"/>
<line x1="182.2" y1="66.6" x2="270.9" y2="66.6" stroke="#111" stroke-width="1.3"/>
<line x1="193" y1="74.5" x2="258" y2="74.5" stroke="#222" stroke-width="1"/>
<line x1="193" y1="77.5" x2="256.6" y2="77.5" stroke="#333" stroke-width="0.9"/>
<line x1="194.5" y1="66.6" x2="194.5" y2="74.7" stroke="#333" stroke-width="0.9"/>
<line x1="202.5" y1="66.6" x2="202.5" y2="74.7" stroke="#333" stroke-width="0.9"/>
<line x1="220.5" y1="66.6" x2="220.5" y2="74.7" stroke="#333" stroke-width="0.9"/>
<line x1="230.5" y1="66.6" x2="230.5" y2="74.7" stroke="#333" stroke-width="0.9"/>
<line x1="247.5" y1="66.6" x2="247.5" y2="74.7" stroke="#333" stroke-width="0.9"/>
<line x1="256.5" y1="66.6" x2="256.5" y2="78" stroke="#333" stroke-width="0.9"/>
<circle cx="208.1" cy="70.3" r="1.3" fill="#666" stroke="#111" stroke-width="0.9"/>
<circle cx="213.4" cy="70.3" r="1.3" fill="#666" stroke="#111" stroke-width="0.9"/>
<circle cx="237.1" cy="70.3" r="1.3" fill="#666" stroke="#111" stroke-width="0.9"/>
<circle cx="242.6" cy="70.3" r="1.3" fill="#666" stroke="#111" stroke-width="0.9"/>
<circle cx="208" cy="100" r="1.2" fill="#aaa" stroke="#222" stroke-width="0.8"/>
<circle cx="212.9" cy="100" r="1.2" fill="#aaa" stroke="#222" stroke-width="0.8"/>
<circle cx="236.4" cy="100" r="1.2" fill="#aaa" stroke="#222" stroke-width="0.8"/>
<circle cx="241.9" cy="100" r="1.2" fill="#aaa" stroke="#222" stroke-width="0.8"/>
<line x1="208.5" y1="67" x2="208.5" y2="133.5" stroke="#3a3a3a" stroke-width="0.85"/>
<line x1="213.5" y1="67" x2="213.5" y2="133.5" stroke="#3a3a3a" stroke-width="0.85"/>
<line x1="236.5" y1="67" x2="236.5" y2="133.5" stroke="#3a3a3a" stroke-width="0.85"/>
<line x1="242.5" y1="67" x2="242.5" y2="133.5" stroke="#3a3a3a" stroke-width="0.85"/>
<line x1="147" y1="66.5" x2="182" y2="66.5" stroke="#333" stroke-width="0.9"/>
<line x1="147" y1="69.5" x2="181" y2="69.5" stroke="#585858" stroke-width="0.9"/>
<line x1="147" y1="99.5" x2="296" y2="99.5" stroke="#666" stroke-width="0.9"/>
<line x1="150.5" y1="62" x2="150.5" y2="103" stroke="#585858" stroke-width="0.9"/>
<line x1="148.2" y1="68.4" x2="152.2" y2="64.4" stroke="#222" stroke-width="1.05"/>
<line x1="148.2" y1="71.4" x2="152.2" y2="67.4" stroke="#222" stroke-width="1.05"/>
<line x1="148" y1="102" x2="152.4" y2="97.6" stroke="#222" stroke-width="1.05"/>
<text transform="translate(145.1 66.2) rotate(-90)" x="0" y="0" font-size="8.1" textLength="9.6" lengthAdjust="spacingAndGlyphs" fill="#222" style="font-style:italic;font-weight:normal" stroke="#222" stroke-width="0.32">50</text>
<text transform="translate(146 94) rotate(-90)" x="0" y="0" font-size="9.5" textLength="17.2" lengthAdjust="spacingAndGlyphs" fill="#222" style="font-style:italic;font-weight:normal" stroke="#222" stroke-width="0.32">600</text>
<text x="146" y="57" font-size="16.76" textLength="9" lengthAdjust="spacingAndGlyphs" fill="#222" style="font-style:italic;font-weight:normal" stroke="#222" stroke-width="0.3">3</text>
<line x1="162.5" y1="35" x2="162.5" y2="57" stroke="#222" stroke-width="1"/>
<path d="M159.3 46.5 L162 57 L164.6 46.5" fill="none" stroke="#222" stroke-width="1" stroke-linejoin="round"/>
<line x1="155" y1="57.5" x2="181" y2="57.5" stroke="#111" stroke-width="1.7"/>
<text x="144" y="120" font-size="19.55" textLength="13" lengthAdjust="spacingAndGlyphs" fill="#222" style="font-style:italic;font-weight:normal" stroke="#222" stroke-width="0.3">14</text>
<line x1="133" y1="123.5" x2="174" y2="123.5" stroke="#222" stroke-width="1"/>
<line x1="173" y1="123.4" x2="208" y2="71.5" stroke="#333" stroke-width="0.8"/>
<line x1="176" y1="121.5" x2="208" y2="100.5" stroke="#333" stroke-width="0.8"/>
<text x="135.5" y="133.6" font-size="8.1" textLength="16" lengthAdjust="spacingAndGlyphs" fill="#222" style="font-style:italic;font-weight:normal" stroke="#222" stroke-width="0.3">шт.</text>
<text x="152.6" y="133.7" font-size="9.92" textLength="6.7" lengthAdjust="spacingAndGlyphs" fill="#222" style="font-style:italic;font-weight:normal" stroke="#222" stroke-width="0.3">8</text>
<text x="214" y="48" font-size="13.97" textLength="9" lengthAdjust="spacingAndGlyphs" fill="#222" style="font-style:italic;font-weight:normal" stroke="#222" stroke-width="0.3">11</text>
<line x1="200.6" y1="51.5" x2="243" y2="51.5" stroke="#222" stroke-width="1"/>
<line x1="243" y1="51.4" x2="212" y2="65.5" stroke="#333" stroke-width="0.8"/>
<line x1="243" y1="51.4" x2="225.4" y2="71.2" stroke="#333" stroke-width="0.8"/>
<line x1="243" y1="51.4" x2="250.3" y2="70.2" stroke="#333" stroke-width="0.8"/>
<line x1="225" y1="71.5" x2="230" y2="71.5" stroke="#333" stroke-width="0.8"/>
<line x1="174" y1="131.5" x2="277.5" y2="131.5" stroke="#333" stroke-width="0.9"/>
<line x1="179.6" y1="133.2" x2="183.6" y2="129.2" stroke="#222" stroke-width="1.05"/>
<line x1="205.8" y1="133.2" x2="209.8" y2="129.2" stroke="#222" stroke-width="1.05"/>
<line x1="210.9" y1="133.2" x2="214.9" y2="129.2" stroke="#222" stroke-width="1.05"/>
<line x1="234.3" y1="133.2" x2="238.3" y2="129.2" stroke="#222" stroke-width="1.05"/>
<line x1="239.8" y1="133.2" x2="243.8" y2="129.2" stroke="#222" stroke-width="1.05"/>
<line x1="268.3" y1="133.2" x2="272.3" y2="129.2" stroke="#222" stroke-width="1.05"/>
<text x="195.2" y="129.4" font-size="9.08" textLength="12.5" lengthAdjust="spacingAndGlyphs" fill="#222" style="font-style:italic;font-weight:normal" stroke="#222" stroke-width="0.32">735</text>
<text x="217.6" y="129.7" font-size="9.08" textLength="16" lengthAdjust="spacingAndGlyphs" fill="#222" style="font-style:italic;font-weight:normal" stroke="#222" stroke-width="0.32">290</text>
<text x="243.1" y="129.4" font-size="9.08" textLength="12.8" lengthAdjust="spacingAndGlyphs" fill="#222" style="font-style:italic;font-weight:normal" stroke="#222" stroke-width="0.32">735</text>
<text x="203.5" y="142.4" font-size="10.06" textLength="12.2" lengthAdjust="spacingAndGlyphs" fill="#222" style="font-style:italic;font-weight:normal" stroke="#222" stroke-width="0.32">110</text>
<text x="234.8" y="142.4" font-size="10.06" textLength="12.8" lengthAdjust="spacingAndGlyphs" fill="#222" style="font-style:italic;font-weight:normal" stroke="#222" stroke-width="0.32">110</text>
<line x1="249.2" y1="31.8" x2="249.2" y2="51" stroke="#111" stroke-width="1.8"/>
<line x1="249.2" y1="34.5" x2="270.7" y2="34.5" stroke="#222" stroke-width="1.1"/>
<path d="M263 32.2 L251.6 34.6 L263 37.2" fill="none" stroke="#222" stroke-width="1" stroke-linejoin="round"/>
<text x="257.9" y="28.6" font-size="15.64" textLength="9.9" lengthAdjust="spacingAndGlyphs" fill="#222" style="font-style:italic;font-weight:normal" stroke="#222" stroke-width="0.3">2</text>
<line x1="282.8" y1="31.8" x2="282.8" y2="50.6" stroke="#111" stroke-width="1.8"/>
<line x1="282.8" y1="35.5" x2="305.4" y2="35.5" stroke="#222" stroke-width="1.1"/>
<path d="M295.4 32.2 L284.6 35 L295.4 38.4" fill="none" stroke="#222" stroke-width="1" stroke-linejoin="round"/>
<text x="296.8" y="28.6" font-size="20.11" textLength="5.8" lengthAdjust="spacingAndGlyphs" fill="#222" style="font-style:italic;font-weight:normal" stroke="#222" stroke-width="0.3">1</text>
<line x1="289.5" y1="381.85" x2="289.5" y2="468" stroke="#585858" stroke-width="0.9"/>
<line x1="290.5" y1="274.17" x2="290.5" y2="381.85" stroke="#585858" stroke-width="0.9"/>
<line x1="291.5" y1="166.48" x2="291.5" y2="274.17" stroke="#585858" stroke-width="0.9"/>
<line x1="292.5" y1="58.8" x2="292.5" y2="166.48" stroke="#585858" stroke-width="0.9"/>
<line x1="310.5" y1="481.58" x2="310.5" y2="561" stroke="#585858" stroke-width="0.9"/>
<line x1="311.5" y1="349.21" x2="311.5" y2="481.58" stroke="#585858" stroke-width="0.9"/>
<line x1="312.5" y1="216.84" x2="312.5" y2="349.21" stroke="#585858" stroke-width="0.9"/>
<line x1="313.5" y1="84.47" x2="313.5" y2="216.84" stroke="#585858" stroke-width="0.9"/>
<line x1="314.5" y1="58" x2="314.5" y2="84.47" stroke="#585858" stroke-width="0.9"/>
<line x1="332.5" y1="480.19" x2="332.5" y2="561" stroke="#585858" stroke-width="0.9"/>
<line x1="333.5" y1="399.39" x2="333.5" y2="480.19" stroke="#585858" stroke-width="0.9"/>
<line x1="334.5" y1="318.58" x2="334.5" y2="399.39" stroke="#585858" stroke-width="0.9"/>
<line x1="335.5" y1="237.77" x2="335.5" y2="318.58" stroke="#585858" stroke-width="0.9"/>
<line x1="336.5" y1="156.97" x2="336.5" y2="237.77" stroke="#585858" stroke-width="0.9"/>
<line x1="337.5" y1="76.16" x2="337.5" y2="156.97" stroke="#585858" stroke-width="0.9"/>
<line x1="338.5" y1="60" x2="338.5" y2="76.16" stroke="#585858" stroke-width="0.9"/>
<line x1="271" y1="66.5" x2="343" y2="66.5" stroke="#585858" stroke-width="0.9"/>
<line x1="270.8" y1="86.5" x2="296" y2="86.5" stroke="#333" stroke-width="0.9"/>
<line x1="290.83" y1="68.7" x2="294.83" y2="64.7" stroke="#222" stroke-width="1.05"/>
<line x1="290.65" y1="88.1" x2="294.65" y2="84.1" stroke="#222" stroke-width="1.05"/>
<line x1="290.52" y1="101.8" x2="294.52" y2="97.8" stroke="#222" stroke-width="1.05"/>
<line x1="291.1" y1="72.8" x2="294.7" y2="69.2" stroke="#222" stroke-width="1.05"/>
<line x1="271" y1="70.5" x2="293.5" y2="70.5" stroke="#666" stroke-width="0.6"/>
<line x1="334" y1="69.5" x2="338.6" y2="69.5" stroke="#666" stroke-width="0.6"/>
<text transform="translate(288.1 84.5) rotate(-90)" x="0" y="0" font-size="9.22" textLength="14.7" lengthAdjust="spacingAndGlyphs" fill="#222" style="font-style:italic;font-weight:normal" stroke="#222" stroke-width="0.32">400</text>
<text transform="translate(304.6 80) rotate(-90)" x="0" y="0" font-size="8.66" textLength="11.5" lengthAdjust="spacingAndGlyphs" fill="#222" style="font-style:italic;font-weight:normal" stroke="#222" stroke-width="0.32">175</text>
<text transform="translate(305.3 102.8) rotate(-90)" x="0" y="0" font-size="8.66" textLength="15.6" lengthAdjust="spacingAndGlyphs" fill="#222" style="font-style:italic;font-weight:normal" stroke="#222" stroke-width="0.32">250</text>
<text transform="translate(286.8 306.6) rotate(-90)" x="0" y="0" font-size="9.22" textLength="35.7" lengthAdjust="spacingAndGlyphs" fill="#222" style="font-style:italic;font-weight:normal" stroke="#222" stroke-width="0.32">32x300</text>
<text transform="translate(309.1 306.6) rotate(-90)" x="0" y="0" font-size="9.22" textLength="28.1" lengthAdjust="spacingAndGlyphs" fill="#222" style="font-style:italic;font-weight:normal" stroke="#222" stroke-width="0.32">10700</text>
<text transform="translate(331.2 309.8) rotate(-90)" x="0" y="0" font-size="9.5" textLength="26.8" lengthAdjust="spacingAndGlyphs" fill="#222" style="font-style:italic;font-weight:normal" stroke="#222" stroke-width="0.32">12700</text>
<line x1="356.5" y1="37.2" x2="356.5" y2="57" stroke="#222" stroke-width="1"/>
<path d="M353.4 46.5 L356 57 L358.6 46.5" fill="none" stroke="#222" stroke-width="1" stroke-linejoin="round"/>
<line x1="333.7" y1="57.7" x2="361.5" y2="57.7" stroke="#111" stroke-width="1.7"/>
<text x="363.2" y="52.3" font-size="16.06" textLength="8.6" lengthAdjust="spacingAndGlyphs" fill="#222" style="font-style:italic;font-weight:normal" stroke="#222" stroke-width="0.3">3</text>
<text x="142.5" y="247.4" font-size="17.32" textLength="8" lengthAdjust="spacingAndGlyphs" fill="#222" style="font-style:italic;font-weight:normal" stroke="#222" stroke-width="0.3">4</text>
<line x1="158.5" y1="226" x2="158.5" y2="247.4" stroke="#222" stroke-width="1"/>
<path d="M156.2 238.5 L158.8 247.4 L161.4 238.5" fill="none" stroke="#222" stroke-width="0.9" stroke-linejoin="round"/>
<line x1="156" y1="248.2" x2="175.7" y2="248.2" stroke="#111" stroke-width="1.7"/>
<line x1="354.5" y1="226.4" x2="354.5" y2="246.8" stroke="#222" stroke-width="1"/>
<path d="M352.3 238 L354.9 246.8 L357.5 238" fill="none" stroke="#222" stroke-width="0.9" stroke-linejoin="round"/>
<line x1="337.6" y1="247.4" x2="360.9" y2="247.4" stroke="#111" stroke-width="1.7"/>
<text x="362.8" y="246.8" font-size="18.44" textLength="9.6" lengthAdjust="spacingAndGlyphs" fill="#222" style="font-style:italic;font-weight:normal" stroke="#222" stroke-width="0.3">4</text>
<line x1="196.5" y1="178.5" x2="212.6" y2="178.5" stroke="#6a6a6a" stroke-width="0.7"/>
<line x1="203.5" y1="173.6" x2="203.5" y2="176.2" stroke="#777" stroke-width="0.7"/>
<line x1="203.5" y1="179.8" x2="203.5" y2="182.4" stroke="#777" stroke-width="0.7"/>
<line x1="238" y1="178.5" x2="257.6" y2="178.5" stroke="#6a6a6a" stroke-width="0.7"/>
<line x1="246.5" y1="173.6" x2="246.5" y2="176.2" stroke="#777" stroke-width="0.7"/>
<line x1="246.5" y1="179.8" x2="246.5" y2="182.4" stroke="#777" stroke-width="0.7"/>
<line x1="193.4" y1="419.5" x2="209.1" y2="419.5" stroke="#6a6a6a" stroke-width="0.7"/>
<line x1="200.5" y1="415" x2="200.5" y2="417.6" stroke="#777" stroke-width="0.7"/>
<line x1="200.5" y1="421.2" x2="200.5" y2="423.8" stroke="#777" stroke-width="0.7"/>
<line x1="237.3" y1="419.5" x2="248.4" y2="419.5" stroke="#6a6a6a" stroke-width="0.7"/>
<line x1="244.5" y1="415" x2="244.5" y2="417.6" stroke="#777" stroke-width="0.7"/>
<line x1="244.5" y1="421.2" x2="244.5" y2="423.8" stroke="#777" stroke-width="0.7"/>
<circle cx="182.6" cy="443" r="12.6" fill="none" stroke="#333" stroke-width="0.8"/>
<line x1="170" y1="443.5" x2="195.7" y2="443.5" stroke="#444" stroke-width="0.7"/>
<line x1="245.2" y1="443.5" x2="275.7" y2="443.5" stroke="#444" stroke-width="0.7"/>
<path d="M178.2 437.8 Q178.4 439.4 180.0 440.2 L180.0 445 Q178.8 446 178.6 448 L178.3 465.4" fill="none" stroke="#222" stroke-width="1.1" stroke-linejoin="round" stroke-linecap="round"/>
<path d="M180.1 437.8 Q180.3 439.4 181.6 440.2 L181.6 445 Q180.5 446 180.4 448 L180.3 465.4" fill="none" stroke="#555" stroke-width="0.7" stroke-linejoin="round" stroke-linecap="round"/>
<path d="M266.5 437.5 Q266.4 440.5 264.5 443 Q264.5 446 266.3 448.5 L265.4 465.4" fill="none" stroke="#222" stroke-width="1.05" stroke-linejoin="round" stroke-linecap="round"/>
<path d="M263.3 437.5 Q263.2 440.5 261.4 443 Q261.4 446 262.4 448.5 L262.2 465.4" fill="none" stroke="#2c2c2c" stroke-width="0.95" stroke-linejoin="round" stroke-linecap="round"/>
<line x1="257.3" y1="450.5" x2="292" y2="450.5" stroke="#333" stroke-width="0.9"/>
<line x1="287.4" y1="452.3" x2="291.4" y2="448.3" stroke="#222" stroke-width="1.05"/>
<line x1="287.25" y1="467.4" x2="291.25" y2="463.4" stroke="#222" stroke-width="1.05"/>
<text transform="translate(298.4 463) rotate(-90)" x="0" y="0" font-size="8.94" textLength="15.3" lengthAdjust="spacingAndGlyphs" fill="#222" style="font-style:italic;font-weight:normal" stroke="#222" stroke-width="0.32">275</text>
<line x1="178.4" y1="465.5" x2="192" y2="465.5" stroke="#222" stroke-width="1.1"/>
<line x1="196" y1="465.5" x2="250" y2="465.5" stroke="#222" stroke-width="1" stroke-dasharray="15 4"/>
<line x1="252" y1="465.5" x2="292" y2="465.5" stroke="#333" stroke-width="0.8"/>
<line x1="292" y1="465.5" x2="316" y2="465.5" stroke="#333" stroke-width="0.9"/>
<line x1="178.5" y1="465.4" x2="178.5" y2="554.5" stroke="#1a1a1a" stroke-width="1.3"/>
<line x1="180.5" y1="465.4" x2="180.5" y2="554.5" stroke="#555" stroke-width="0.8"/>
<line x1="186.5" y1="465.4" x2="186.5" y2="554.5" stroke="#555" stroke-width="0.8"/>
<line x1="188.5" y1="465.4" x2="188.5" y2="554.5" stroke="#222" stroke-width="1.2"/>
<line x1="252.5" y1="465.4" x2="252.5" y2="554.5" stroke="#222" stroke-width="1.2"/>
<line x1="254.5" y1="465.4" x2="254.5" y2="554.5" stroke="#555" stroke-width="0.8"/>
<line x1="262.5" y1="465.4" x2="262.5" y2="554.5" stroke="#555" stroke-width="0.8"/>
<line x1="264.5" y1="465.4" x2="264.5" y2="554.5" stroke="#1a1a1a" stroke-width="1.3"/>
<line x1="178" y1="498.5" x2="316" y2="498.5" stroke="#333" stroke-width="0.9"/>
<path d="M178 554.5 L264.3 554.5 L264.3 562.6 L178 562.6 Z" fill="none" stroke="#222" stroke-width="1.1" stroke-linejoin="round"/>
<line x1="178.5" y1="556.5" x2="264" y2="556.5" stroke="#777" stroke-width="0.6"/>
<line x1="264.3" y1="554.5" x2="318" y2="554.5" stroke="#333" stroke-width="0.9"/>
<line x1="308.92" y1="467.6" x2="313.32" y2="463.2" stroke="#222" stroke-width="1.05"/>
<line x1="308.68" y1="500.2" x2="313.08" y2="495.8" stroke="#222" stroke-width="1.05"/>
<line x1="308.25" y1="556.8" x2="312.65" y2="552.4" stroke="#222" stroke-width="1.05"/>
<text transform="translate(307.1 491) rotate(-90)" x="0" y="0" font-size="9.22" textLength="17.3" lengthAdjust="spacingAndGlyphs" fill="#222" style="font-style:italic;font-weight:normal" stroke="#222" stroke-width="0.32">700</text>
<text transform="translate(307.4 536.2) rotate(-90)" x="0" y="0" font-size="9.5" textLength="23.2" lengthAdjust="spacingAndGlyphs" fill="#222" style="font-style:italic;font-weight:normal" stroke="#222" stroke-width="0.32">1300</text>
<line x1="329.9" y1="556.6" x2="334.3" y2="552.2" stroke="#222" stroke-width="1.05"/>
<line x1="318" y1="554.5" x2="336" y2="554.5" stroke="#333" stroke-width="0.9"/>
<line x1="244.2" y1="566.8" x2="244.2" y2="586.8" stroke="#111" stroke-width="1.8"/>
<line x1="244.2" y1="580.5" x2="265.7" y2="580.5" stroke="#222" stroke-width="1"/>
<path d="M257 578.2 L245.8 580.7 L257 583.6" fill="none" stroke="#222" stroke-width="0.9" stroke-linejoin="round"/>
<text x="251.4" y="600.3" font-size="16.06" textLength="11.9" lengthAdjust="spacingAndGlyphs" fill="#222" style="font-style:italic;font-weight:normal" stroke="#222" stroke-width="0.3">2</text>
<line x1="276.4" y1="566.2" x2="276.4" y2="586.8" stroke="#111" stroke-width="1.8"/>
<line x1="276.4" y1="581.5" x2="298.5" y2="581.5" stroke="#222" stroke-width="1"/>
<path d="M289 578.4 L278 581 L289 583.8" fill="none" stroke="#222" stroke-width="0.9" stroke-linejoin="round"/>
<text x="288.6" y="601" font-size="19.55" textLength="6.8" lengthAdjust="spacingAndGlyphs" fill="#222" style="font-style:italic;font-weight:normal" stroke="#222" stroke-width="0.3">1</text>
<text x="473.5" y="26.5" font-size="15.36" textLength="20.5" lengthAdjust="spacingAndGlyphs" fill="#222" style="font-style:italic;font-weight:normal" stroke="#222" stroke-width="0.28">3-3</text>
<line x1="460.8" y1="29.2" x2="497.6" y2="29.2" stroke="#111" stroke-width="1.4"/>
<line x1="453" y1="44.5" x2="553" y2="44.5" stroke="#333" stroke-width="0.9"/>
<line x1="456" y1="47.1" x2="460.4" y2="42.7" stroke="#222" stroke-width="1.05"/>
<line x1="545.2" y1="47.1" x2="549.6" y2="42.7" stroke="#222" stroke-width="1.05"/>
<text x="499" y="43.3" font-size="9.64" textLength="23.2" lengthAdjust="spacingAndGlyphs" fill="#222" style="font-style:italic;font-weight:normal" stroke="#222" stroke-width="0.32">1980</text>
<line x1="430" y1="60.5" x2="571" y2="60.5" stroke="#333" stroke-width="0.9"/>
<line x1="455.9" y1="62.3" x2="459.7" y2="58.5" stroke="#222" stroke-width="1.05"/>
<line x1="465.4" y1="62.3" x2="469.2" y2="58.5" stroke="#222" stroke-width="1.05"/>
<line x1="474.4" y1="62.3" x2="478.2" y2="58.5" stroke="#222" stroke-width="1.05"/>
<line x1="493.5" y1="62.3" x2="497.3" y2="58.5" stroke="#222" stroke-width="1.05"/>
<line x1="503.5" y1="62.3" x2="507.3" y2="58.5" stroke="#222" stroke-width="1.05"/>
<line x1="523.3" y1="62.3" x2="527.1" y2="58.5" stroke="#222" stroke-width="1.05"/>
<line x1="532.1" y1="62.3" x2="535.9" y2="58.5" stroke="#222" stroke-width="1.05"/>
<line x1="544.9" y1="62.3" x2="548.7" y2="58.5" stroke="#222" stroke-width="1.05"/>
<text x="440.2" y="59" font-size="10.06" textLength="15" lengthAdjust="spacingAndGlyphs" fill="#222" style="font-style:italic;font-weight:normal" stroke="#222" stroke-width="0.32">440</text>
<text x="551.6" y="59" font-size="10.06" textLength="17.4" lengthAdjust="spacingAndGlyphs" fill="#222" style="font-style:italic;font-weight:normal" stroke="#222" stroke-width="0.32">440</text>
<text x="478.8" y="58.2" font-size="8.66" textLength="15.2" lengthAdjust="spacingAndGlyphs" fill="#222" style="font-style:italic;font-weight:normal" stroke="#222" stroke-width="0.32">250</text>
<text x="511.2" y="58.2" font-size="8.66" textLength="13.4" lengthAdjust="spacingAndGlyphs" fill="#222" style="font-style:italic;font-weight:normal" stroke="#222" stroke-width="0.32">250</text>
<text transform="translate(473.8 57.3) rotate(-90)" x="0" y="0" font-size="7.54" textLength="12.5" lengthAdjust="spacingAndGlyphs" fill="#222" style="font-style:italic;font-weight:normal" stroke="#222" stroke-width="0.32">200</text>
<text transform="translate(502 58) rotate(-90)" x="0" y="0" font-size="7.26" textLength="11.4" lengthAdjust="spacingAndGlyphs" fill="#222" style="font-style:italic;font-weight:normal" stroke="#222" stroke-width="0.32">200</text>
<text transform="translate(532.8 58) rotate(-90)" x="0" y="0" font-size="7.54" textLength="12" lengthAdjust="spacingAndGlyphs" fill="#222" style="font-style:italic;font-weight:normal" stroke="#222" stroke-width="0.32">200</text>
<line x1="458.5" y1="39" x2="458.5" y2="76" stroke="#585858" stroke-width="0.9"/>
<line x1="457.9" y1="93" x2="457.9" y2="143" stroke="#585858" stroke-width="0.9" stroke-dasharray="12 2.5"/>
<line x1="547.5" y1="39" x2="547.5" y2="143" stroke="#585858" stroke-width="0.9"/>
<line x1="467.5" y1="57" x2="467.5" y2="75.2" stroke="#585858" stroke-width="0.9"/>
<line x1="476.5" y1="57" x2="476.5" y2="75.2" stroke="#585858" stroke-width="0.9"/>
<line x1="495.5" y1="57" x2="495.5" y2="75.2" stroke="#585858" stroke-width="0.9"/>
<line x1="505.5" y1="57" x2="505.5" y2="75.2" stroke="#585858" stroke-width="0.9"/>
<line x1="525.5" y1="57" x2="525.5" y2="75.2" stroke="#585858" stroke-width="0.9"/>
<line x1="534.5" y1="57" x2="534.5" y2="75.2" stroke="#585858" stroke-width="0.9"/>
<line x1="460.5" y1="93" x2="460.5" y2="143" stroke="#888" stroke-width="0.6"/>
<line x1="545.5" y1="94" x2="545.5" y2="143" stroke="#666" stroke-width="0.6"/>
<path d="M458.2 79.2 L463.6 79.2 L464.4 77.6 L537.8 77.6 L538.6 79.8 L546.4 79.8" fill="none" stroke="#222" stroke-width="1.1" stroke-linejoin="round"/>
<path d="M467.4 77.6 L467.4 83.0 Q467.4 83.8 468.2 83.8 L475.6 83.8 Q476.4 83.8 476.4 83.0 L476.4 77.6" fill="none" stroke="#222" stroke-width="1" stroke-linejoin="round" stroke-linecap="round"/>
<path d="M495.3 77.6 L495.3 83.0 Q495.3 83.8 496.1 83.8 L504.6 83.8 Q505.4 83.8 505.4 83.0 L505.4 77.6" fill="none" stroke="#222" stroke-width="1" stroke-linejoin="round" stroke-linecap="round"/>
<path d="M525.3 77.6 L525.3 83.0 Q525.3 83.8 526.1 83.8 L533.5 83.8 Q534.3 83.8 534.3 83.0 L534.3 77.6" fill="none" stroke="#222" stroke-width="1" stroke-linejoin="round" stroke-linecap="round"/>
<line x1="470.5" y1="73.2" x2="470.5" y2="78" stroke="#222" stroke-width="1.1"/>
<line x1="531.5" y1="73.2" x2="531.5" y2="78" stroke="#222" stroke-width="1.1"/>
<line x1="428.4" y1="92.5" x2="458" y2="92.5" stroke="#333" stroke-width="0.9"/>
<line x1="458.6" y1="91.5" x2="544.2" y2="91.5" stroke="#222" stroke-width="1.1"/>
<path d="M546 79.8 Q545 81.5 544 83 Q545.6 85 544.4 87 Q543.6 89 544.2 91.6" fill="none" stroke="#222" stroke-width="1" stroke-linejoin="round" stroke-linecap="round"/>
<path d="M458.2 79.2 Q457.6 81 459.4 82.6 Q461.4 84.4 460.4 86.8 Q459.2 89.4 459.6 91.6" fill="none" stroke="#222" stroke-width="1" stroke-linejoin="round" stroke-linecap="round"/>
<line x1="483.5" y1="78.4" x2="483.5" y2="91" stroke="#444" stroke-width="0.8" stroke-dasharray="2.6 1.6"/>
<line x1="485.5" y1="78.4" x2="485.5" y2="91" stroke="#444" stroke-width="0.8" stroke-dasharray="2.6 1.6"/>
<line x1="489.5" y1="78.4" x2="489.5" y2="91" stroke="#444" stroke-width="0.8" stroke-dasharray="2.6 1.6"/>
<line x1="491.5" y1="78.4" x2="491.5" y2="91" stroke="#444" stroke-width="0.8" stroke-dasharray="2.6 1.6"/>
<line x1="512.5" y1="78.4" x2="512.5" y2="91" stroke="#444" stroke-width="0.8" stroke-dasharray="2.6 1.6"/>
<line x1="514.5" y1="78.4" x2="514.5" y2="91" stroke="#444" stroke-width="0.8" stroke-dasharray="2.6 1.6"/>
<line x1="517.5" y1="78.4" x2="517.5" y2="91" stroke="#444" stroke-width="0.8" stroke-dasharray="2.6 1.6"/>
<line x1="520.5" y1="78.4" x2="520.5" y2="91" stroke="#444" stroke-width="0.8" stroke-dasharray="2.6 1.6"/>
<path d="M468.5 92.6 L468.5 88.4 L477.2 88.4 L477.2 92.6 Z" fill="none" stroke="#222" stroke-width="1" stroke-linejoin="round"/>
<path d="M497.1 92.6 L497.1 88.4 L507.1 88.4 L507.1 92.6 Z" fill="none" stroke="#222" stroke-width="1" stroke-linejoin="round"/>
<path d="M527.3 92.6 L527.3 88.4 L535.4 88.4 L535.4 92.6 Z" fill="none" stroke="#222" stroke-width="1" stroke-linejoin="round"/>
<line x1="472" y1="92.6" x2="474.6" y2="108.4" stroke="#333" stroke-width="0.8"/>
<line x1="502.4" y1="92.6" x2="505.4" y2="109" stroke="#333" stroke-width="0.8"/>
<line x1="531.7" y1="92.6" x2="535.6" y2="109.3" stroke="#333" stroke-width="0.8"/>
<path d="M474.6 108.4 L536 109.3 L562 109.5" fill="none" stroke="#444" stroke-width="0.7" stroke-linejoin="round"/>
<line x1="560.6" y1="109.6" x2="591.5" y2="109.9" stroke="#1a1a1a" stroke-width="1.3"/>
<text x="570.2" y="107.8" font-size="17.04" textLength="9.6" lengthAdjust="spacingAndGlyphs" fill="#222" style="font-style:italic;font-weight:normal" stroke="#222" stroke-width="0.28">11</text>
<line x1="546.9" y1="81.5" x2="566" y2="81.5" stroke="#333" stroke-width="0.8"/>
<line x1="566" y1="81.4" x2="595" y2="81.4" stroke="#1a1a1a" stroke-width="1.3"/>
<text x="574.3" y="79" font-size="16.2" textLength="13.1" lengthAdjust="spacingAndGlyphs" fill="#222" style="font-style:italic;font-weight:normal" stroke="#222" stroke-width="0.28">12</text>
<line x1="429.4" y1="77.5" x2="464" y2="77.5" stroke="#333" stroke-width="0.9"/>
<line x1="436.5" y1="70.5" x2="436.5" y2="102.2" stroke="#585858" stroke-width="0.9"/>
<line x1="434.3" y1="79.6" x2="438.3" y2="75.6" stroke="#222" stroke-width="1.05"/>
<line x1="434.3" y1="94.4" x2="438.3" y2="90.4" stroke="#222" stroke-width="1.05"/>
<text transform="translate(430.2 90.4) rotate(-90)" x="0" y="0" font-size="9.5" textLength="15.4" lengthAdjust="spacingAndGlyphs" fill="#222" style="font-style:italic;font-weight:normal" stroke="#222" stroke-width="0.32">400</text>
<line x1="437.8" y1="136.5" x2="566" y2="136.5" stroke="#333" stroke-width="0.9"/>
<line x1="455.4" y1="139" x2="459.8" y2="134.6" stroke="#222" stroke-width="1.05"/>
<line x1="544.4" y1="139" x2="548.8" y2="134.6" stroke="#222" stroke-width="1.05"/>
<text x="443" y="135.3" font-size="9.36" textLength="11.5" lengthAdjust="spacingAndGlyphs" fill="#222" style="font-style:italic;font-weight:normal" stroke="#222" stroke-width="0.32">25</text>
<text x="499.2" y="135.3" font-size="9.36" textLength="24.3" lengthAdjust="spacingAndGlyphs" fill="#222" style="font-style:italic;font-weight:normal" stroke="#222" stroke-width="0.32">1930</text>
<text x="551.6" y="135.3" font-size="9.36" textLength="11.8" lengthAdjust="spacingAndGlyphs" fill="#222" style="font-style:italic;font-weight:normal" stroke="#222" stroke-width="0.32">25</text>
<text x="496.6" y="194.8" font-size="16.2" textLength="22.8" lengthAdjust="spacingAndGlyphs" fill="#222" style="font-style:italic;font-weight:normal" stroke="#222" stroke-width="0.28">4-4</text>
<line x1="481.5" y1="198.2" x2="529" y2="198.2" stroke="#111" stroke-width="1.4"/>
<text x="428" y="233.8" font-size="20.11" textLength="7.2" lengthAdjust="spacingAndGlyphs" fill="#222" style="font-style:italic;font-weight:normal" stroke="#222" stroke-width="0.28">1</text>
<line x1="414.8" y1="236.6" x2="450.3" y2="236.6" stroke="#1a1a1a" stroke-width="1.4"/>
<line x1="450.3" y1="236.6" x2="476.4" y2="250.2" stroke="#333" stroke-width="0.9"/>
<text x="426.3" y="262.5" font-size="13.27" textLength="8.7" lengthAdjust="spacingAndGlyphs" fill="#222" style="font-style:italic;font-weight:bold">2</text>
<line x1="416.7" y1="266" x2="447" y2="266" stroke="#1a1a1a" stroke-width="1.4"/>
<path d="M447 266 L483.4 266 L486 260.4" fill="none" stroke="#333" stroke-width="0.9" stroke-linejoin="round"/>
<line x1="454" y1="229.5" x2="484" y2="229.5" stroke="#333" stroke-width="0.9"/>
<line x1="455.6" y1="231" x2="459.6" y2="227" stroke="#222" stroke-width="1.05"/>
<line x1="478" y1="231" x2="482" y2="227" stroke="#222" stroke-width="1.05"/>
<text x="463.7" y="224" font-size="9.22" textLength="14.3" lengthAdjust="spacingAndGlyphs" fill="#222" style="font-style:italic;font-weight:normal" stroke="#222" stroke-width="0.32">500</text>
<line x1="520.4" y1="229.5" x2="553.2" y2="229.5" stroke="#333" stroke-width="0.9"/>
<line x1="521.5" y1="231" x2="525.5" y2="227" stroke="#222" stroke-width="1.05"/>
<line x1="544.8" y1="231" x2="548.8" y2="227" stroke="#222" stroke-width="1.05"/>
<text x="528.8" y="224" font-size="9.22" textLength="15.1" lengthAdjust="spacingAndGlyphs" fill="#222" style="font-style:italic;font-weight:normal" stroke="#222" stroke-width="0.32">500</text>
<text x="499.4" y="224.2" font-size="16.76" textLength="7.6" lengthAdjust="spacingAndGlyphs" fill="#222" style="font-style:italic;font-weight:normal" stroke="#222" stroke-width="0.2">8</text>
<line x1="487.8" y1="227.2" x2="517" y2="227.2" stroke="#1a1a1a" stroke-width="1.3"/>
<line x1="517" y1="227.2" x2="480.8" y2="242.8" stroke="#333" stroke-width="0.8"/>
<line x1="517" y1="227.2" x2="522.6" y2="246" stroke="#333" stroke-width="0.8"/>
<line x1="480" y1="225" x2="480.4" y2="246.6" stroke="#585858" stroke-width="0.9"/>
<line x1="523.5" y1="225" x2="523.2" y2="246.6" stroke="#585858" stroke-width="0.9"/>
<line x1="457.5" y1="224" x2="457.5" y2="296" stroke="#585858" stroke-width="0.9"/>
<line x1="546.5" y1="224" x2="546.5" y2="296" stroke="#585858" stroke-width="0.9"/>
<line x1="459.5" y1="262" x2="459.5" y2="296" stroke="#777" stroke-width="0.6"/>
<line x1="544.5" y1="262" x2="544.5" y2="296" stroke="#777" stroke-width="0.6"/>
<line x1="466.7" y1="247.5" x2="532.6" y2="247.5" stroke="#333" stroke-width="0.8"/>
<line x1="479.5" y1="246.5" x2="523.6" y2="246.5" stroke="#555" stroke-width="0.7"/>
<line x1="459.5" y1="250.5" x2="544.6" y2="250.5" stroke="#111" stroke-width="1.7"/>
<line x1="459.5" y1="258.7" x2="544.6" y2="258.7" stroke="#111" stroke-width="1.7"/>
<line x1="467.6" y1="261.5" x2="484.4" y2="261.5" stroke="#333" stroke-width="0.9"/>
<line x1="533.4" y1="261.5" x2="544" y2="261.5" stroke="#333" stroke-width="0.9"/>
<path d="M461 250 Q456.8 254.6 461 259.2" fill="none" stroke="#222" stroke-width="1.1" stroke-linejoin="round" stroke-linecap="round"/>
<path d="M463.2 251 Q461 254.6 463.2 258.2" fill="none" stroke="#444" stroke-width="0.8" stroke-linejoin="round" stroke-linecap="round"/>
<path d="M543.6 250 Q547.4 254.6 543.6 259.2" fill="none" stroke="#222" stroke-width="1.1" stroke-linejoin="round" stroke-linecap="round"/>
<path d="M466.7 247 Q461.5 247.4 459.6 249.8" fill="none" stroke="#333" stroke-width="0.8" stroke-linejoin="round" stroke-linecap="round"/>
<path d="M467.6 261.9 Q463 261.6 461.4 259.6" fill="none" stroke="#333" stroke-width="0.8" stroke-linejoin="round" stroke-linecap="round"/>
<path d="M484.4 261.9 Q486.2 261.4 486 260.2" fill="none" stroke="#333" stroke-width="0.8" stroke-linejoin="round" stroke-linecap="round"/>
<path d="M532.6 247 Q539 247.2 543.8 249.8" fill="none" stroke="#333" stroke-width="0.8" stroke-linejoin="round" stroke-linecap="round"/>
<path d="M533.4 261.9 Q539 262 543.6 259.6" fill="none" stroke="#333" stroke-width="0.8" stroke-linejoin="round" stroke-linecap="round"/>
<ellipse cx="539.4" cy="254.4" rx="11.3" ry="11.6" fill="none" stroke="#333" stroke-width="0.8"/>
<line x1="550.6" y1="257.6" x2="603.2" y2="297.2" stroke="#333" stroke-width="0.8"/>
<line x1="505.4" y1="297.5" x2="603.2" y2="297.5" stroke="#222" stroke-width="1.2"/>
<text x="570.5" y="294.2" font-size="16.48" textLength="10.3" lengthAdjust="spacingAndGlyphs" fill="#222" style="font-style:italic;font-weight:normal" stroke="#222" stroke-width="0.28">2</text>
<text x="508" y="307" font-size="9.22" textLength="88.6" lengthAdjust="spacingAndGlyphs" fill="#222" style="font-style:italic;font-weight:normal" stroke="#222" stroke-width="0.32">3.901.1-14.1 00 00У</text>
<line x1="540" y1="246.5" x2="582" y2="246.5" stroke="#585858" stroke-width="0.9"/>
<line x1="551" y1="261.5" x2="582" y2="261.5" stroke="#585858" stroke-width="0.9"/>
<line x1="578.5" y1="240.2" x2="578.5" y2="267.6" stroke="#585858" stroke-width="0.9"/>
<line x1="576.5" y1="248.5" x2="580.5" y2="244.5" stroke="#222" stroke-width="1.05"/>
<line x1="576.5" y1="263.3" x2="580.5" y2="259.3" stroke="#222" stroke-width="1.05"/>
<text transform="translate(591.9 260) rotate(-90)" x="0" y="0" font-size="10.34" textLength="17" lengthAdjust="spacingAndGlyphs" fill="#222" style="font-style:italic;font-weight:normal" stroke="#222" stroke-width="0.32">400</text>
<line x1="444.5" y1="287.5" x2="557" y2="287.5" stroke="#333" stroke-width="0.9"/>
<line x1="455.3" y1="289.2" x2="459.7" y2="284.8" stroke="#222" stroke-width="1.05"/>
<line x1="543.8" y1="289.2" x2="548.2" y2="284.8" stroke="#222" stroke-width="1.05"/>
<text x="444.5" y="282.1" font-size="9.36" textLength="9.7" lengthAdjust="spacingAndGlyphs" fill="#222" style="font-style:italic;font-weight:normal" stroke="#222" stroke-width="0.32">25</text>
<text x="492.8" y="282.1" font-size="9.36" textLength="20.7" lengthAdjust="spacingAndGlyphs" fill="#222" style="font-style:italic;font-weight:normal" stroke="#222" stroke-width="0.32">1930</text>
<text x="550.8" y="282.1" font-size="9.36" textLength="10.4" lengthAdjust="spacingAndGlyphs" fill="#222" style="font-style:italic;font-weight:normal" stroke="#222" stroke-width="0.32">25</text>
</svg>
</body></html>
